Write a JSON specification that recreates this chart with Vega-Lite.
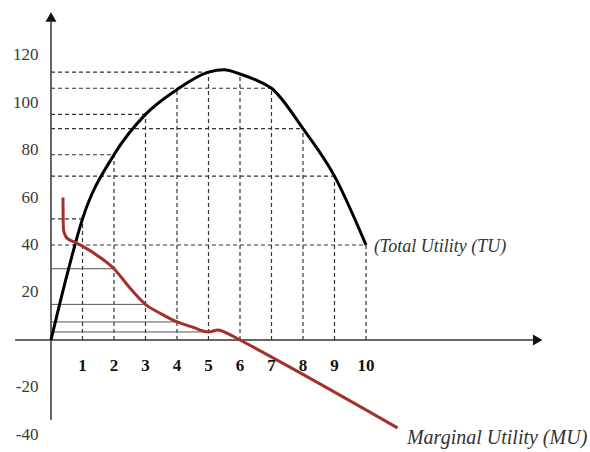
{
  "$schema": "https://vega.github.io/schema/vega-lite/v6.json",
  "width": 590,
  "height": 452,
  "autosize": "none",
  "padding": 0,
  "background": "white",
  "config": {"view": {"stroke": null}, "font": "Liberation Serif"},
  "datasets": {
    "tu": [
      {"q": 0, "u": 0}, {"q": 0.5, "u": 27}, {"q": 1, "u": 51}, {"q": 2, "u": 78},
      {"q": 3, "u": 95}, {"q": 4, "u": 105.5}, {"q": 5, "u": 112.8}, {"q": 5.5, "u": 113.8},
      {"q": 6, "u": 112}, {"q": 6.5, "u": 109.5}, {"q": 7, "u": 106}, {"q": 8, "u": 89},
      {"q": 9, "u": 69}, {"q": 10, "u": 40}
    ],
    "mu": [
      {"q": 0.38, "u": 60}, {"q": 0.385, "u": 52}, {"q": 0.4, "u": 46}, {"q": 0.5, "u": 43},
      {"q": 0.75, "u": 41.2}, {"q": 1, "u": 39.5}, {"q": 1.5, "u": 35.3}, {"q": 2, "u": 30},
      {"q": 2.5, "u": 22}, {"q": 3, "u": 15}, {"q": 3.5, "u": 11}, {"q": 4, "u": 7.6},
      {"q": 4.5, "u": 5.4}, {"q": 5, "u": 3.4}, {"q": 5.3, "u": 4.2}, {"q": 5.6, "u": 2.8},
      {"q": 6, "u": 0}, {"q": 11, "u": -37}
    ],
    "hdash": [
      {"q": 0, "qEnd": 5, "u": 112.8}, {"q": 0, "qEnd": 7, "u": 106}, {"q": 0, "qEnd": 3, "u": 95},
      {"q": 0, "qEnd": 8, "u": 89}, {"q": 0, "qEnd": 2, "u": 78}, {"q": 0, "qEnd": 9, "u": 69},
      {"q": 0, "qEnd": 1, "u": 51}, {"q": 0, "qEnd": 10, "u": 40}
    ],
    "vdash": [
      {"q": 1, "u": 0, "top": 51}, {"q": 2, "u": 0, "top": 78}, {"q": 3, "u": 0, "top": 95},
      {"q": 4, "u": 0, "top": 105.5}, {"q": 5, "u": 0, "top": 112.8}, {"q": 6, "u": 0, "top": 112},
      {"q": 7, "u": 0, "top": 106}, {"q": 8, "u": 0, "top": 89}, {"q": 9, "u": 0, "top": 69},
      {"q": 10, "u": 0, "top": 40}
    ],
    "musolid": [
      {"q": 0, "qEnd": 2, "u": 30}, {"q": 0, "qEnd": 3, "u": 15},
      {"q": 0, "qEnd": 4, "u": 7.6}, {"q": 0, "qEnd": 5, "u": 3.4}
    ],
    "axes": [
      {"q": 0, "q2": 0, "u": -33.7, "u2": 134},
      {"q": -1.14, "q2": 15.3, "u": 0, "u2": 0}
    ],
    "xlabels": [
      {"q": 1, "u": -11, "lab": "1"}, {"q": 2, "u": -11, "lab": "2"}, {"q": 3, "u": -11, "lab": "3"},
      {"q": 4, "u": -11, "lab": "4"}, {"q": 5, "u": -11, "lab": "5"}, {"q": 6, "u": -11, "lab": "6"},
      {"q": 7, "u": -11, "lab": "7"}, {"q": 8, "u": -11, "lab": "8"}, {"q": 9, "u": -11, "lab": "9"},
      {"q": 10, "u": -11, "lab": "10"}
    ],
    "ylabels": [
      {"q": -0.4, "u": 120, "lab": "120"}, {"q": -0.4, "u": 100, "lab": "100"},
      {"q": -0.4, "u": 80, "lab": "80"}, {"q": -0.4, "u": 60, "lab": "60"},
      {"q": -0.4, "u": 40, "lab": "40"}, {"q": -0.4, "u": 20, "lab": "20"},
      {"q": -0.4, "u": -20, "lab": "-20"}, {"q": -0.4, "u": -40, "lab": "-40"}
    ]
  },
  "encoding": {
    "x": {
      "field": "q",
      "type": "quantitative",
      "scale": {"domain": [-1.619, 17.111], "nice": false, "zero": false},
      "axis": null
    },
    "y": {
      "field": "u",
      "type": "quantitative",
      "scale": {"domain": [-47.158, 143.158], "nice": false, "zero": false},
      "axis": null
    }
  },
  "layer": [
    {
      "data": {"name": "hdash"},
      "mark": {"type": "rule", "color": "#333", "strokeWidth": 1.2, "strokeDash": [4, 3]},
      "encoding": {"x2": {"field": "qEnd"}}
    },
    {
      "data": {"name": "vdash"},
      "mark": {"type": "rule", "color": "#333", "strokeWidth": 1.2, "strokeDash": [4, 3]},
      "encoding": {"y2": {"field": "top"}}
    },
    {
      "data": {"name": "musolid"},
      "mark": {"type": "rule", "color": "#555", "strokeWidth": 1},
      "encoding": {"x2": {"field": "qEnd"}}
    },
    {
      "data": {"name": "axes"},
      "mark": {"type": "rule", "color": "#333", "strokeWidth": 1.5},
      "encoding": {
        "x2": {"field": "q2"},
        "y2": {"field": "u2"}
      }
    },
    {
      "data": {"values": [{"q": 0, "u": 136}]},
      "mark": {"type": "point", "shape": "triangle-up", "filled": true, "color": "#111", "size": 120, "opacity": 1}
    },
    {
      "data": {"values": [{"q": 15.45, "u": 0}]},
      "mark": {"type": "point", "shape": "triangle-right", "filled": true, "color": "#111", "size": 120, "opacity": 1}
    },
    {
      "data": {"name": "tu"},
      "mark": {"type": "line", "color": "#000", "strokeWidth": 3, "interpolate": "monotone"}
    },
    {
      "data": {"name": "mu"},
      "mark": {"type": "line", "color": "#a3302a", "strokeWidth": 3, "interpolate": "monotone"}
    },
    {
      "data": {"name": "xlabels"},
      "mark": {"type": "text", "font": "Liberation Serif", "fontSize": 17, "fontWeight": "bold", "color": "#111", "baseline": "middle"},
      "encoding": {"text": {"field": "lab", "type": "nominal"}}
    },
    {
      "data": {"name": "ylabels"},
      "mark": {"type": "text", "font": "Liberation Serif", "fontSize": 17, "color": "#3a3a3a", "align": "right", "baseline": "middle"},
      "encoding": {"text": {"field": "lab", "type": "nominal"}}
    },
    {
      "data": {"values": [{"q": 10.25, "u": 39.2, "t": "(Total Utility (TU)"}]},
      "mark": {"type": "text", "font": "Liberation Serif", "fontSize": 18, "fontStyle": "italic", "color": "#333", "align": "left", "baseline": "middle"},
      "encoding": {"text": {"field": "t", "type": "nominal"}}
    },
    {
      "data": {"values": [{"q": 11.3, "u": -41.3, "t": "Marginal Utility (MU)"}]},
      "mark": {"type": "text", "font": "Liberation Serif", "fontSize": 20, "fontStyle": "italic", "color": "#333", "align": "left", "baseline": "middle"},
      "encoding": {"text": {"field": "t", "type": "nominal"}}
    }
  ]
}
